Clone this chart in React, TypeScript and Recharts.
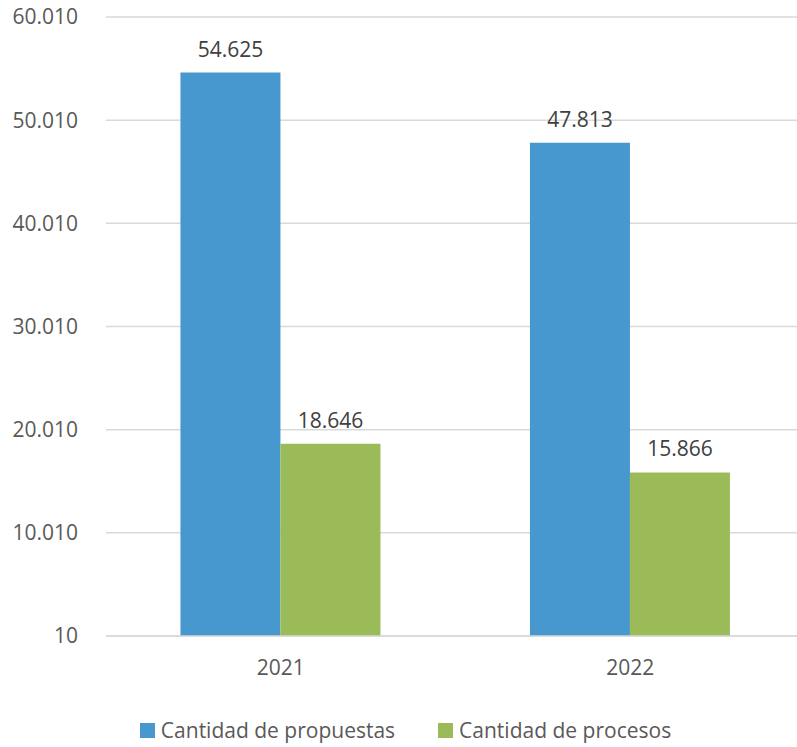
import { Bar, BarChart, CartesianGrid, LabelList, Legend, XAxis, YAxis } from "recharts";

const years = ["2021", "2022"];
const propuestas = [54625, 47813];
const procesos = [18646, 15866];
const yTicks = [10, 10010, 20010, 30010, 40010, 50010, 60010];

const data = years.map((year, i) => ({
  year,
  propuestas: propuestas[i],
  procesos: procesos[i],
}));

const BLUE = "#4698cf";
const GREEN = "#9bbb59";
const FONT = "'Open Sans', sans-serif";

const fmt = (v: number) => v.toLocaleString("de-DE");

function LegendContent() {
  const items = [
    { label: "Cantidad de propuestas", color: BLUE },
    { label: "Cantidad de procesos", color: GREEN },
  ];
  return (
    <div
      style={{
        display: "flex",
        justifyContent: "center",
        gap: 43,
        paddingTop: 20,
        paddingLeft: 14,
        fontFamily: FONT,
        fontSize: 21,
        lineHeight: "26px",
        color: "#595959",
      }}
    >
      {items.map((it) => (
        <div key={it.label} style={{ display: "flex", alignItems: "center" }}>
          <span style={{ width: 15, height: 15, background: it.color, marginRight: 6, display: "inline-block" }} />
          <span>{it.label}</span>
        </div>
      ))}
    </div>
  );
}

export default function App() {
  return (
    <div style={{ position: "absolute", top: 0, left: 0, width: 797, height: 747, background: "#fff" }}>
      <BarChart
        width={797}
        height={747}
        data={data}
        margin={{ top: 17, right: 0, bottom: 0, left: 0 }}
        barCategoryGap="21.3%"
        barGap={0}
      >
        <CartesianGrid vertical={false} stroke="#d9d9d9" strokeWidth={1.5} />
        <XAxis
          dataKey="year"
          axisLine={{ stroke: "#d9d9d9", strokeWidth: 1.5 }}
          tickLine={false}
          tickSize={0}
          tickMargin={24}
          height={61}
          padding={{ left: 0, right: -8 }}
          tick={{ fill: "#595959", fontSize: 21, fontFamily: FONT }}
        />
        <YAxis
          domain={[10, 60010]}
          ticks={yTicks}
          interval={0}
          width={106}
          axisLine={false}
          tickLine={false}
          tickSize={0}
          tickMargin={28}
          tickFormatter={fmt}
          tick={{ fill: "#595959", fontSize: 21, fontFamily: FONT }}
        />
        <Legend verticalAlign="bottom" height={50} content={<LegendContent />} />
        <Bar dataKey="propuestas" name="Cantidad de propuestas" fill={BLUE} isAnimationActive={false}>
          <LabelList
            dataKey="propuestas"
            position="top"
            offset={16}
            formatter={(v: any) => fmt(Number(v))}
            style={{ fill: "#404040", fontSize: 21, fontFamily: FONT }}
          />
        </Bar>
        <Bar dataKey="procesos" name="Cantidad de procesos" fill={GREEN} isAnimationActive={false}>
          <LabelList
            dataKey="procesos"
            position="top"
            offset={16}
            formatter={(v: any) => fmt(Number(v))}
            style={{ fill: "#404040", fontSize: 21, fontFamily: FONT }}
          />
        </Bar>
      </BarChart>
    </div>
  );
}
